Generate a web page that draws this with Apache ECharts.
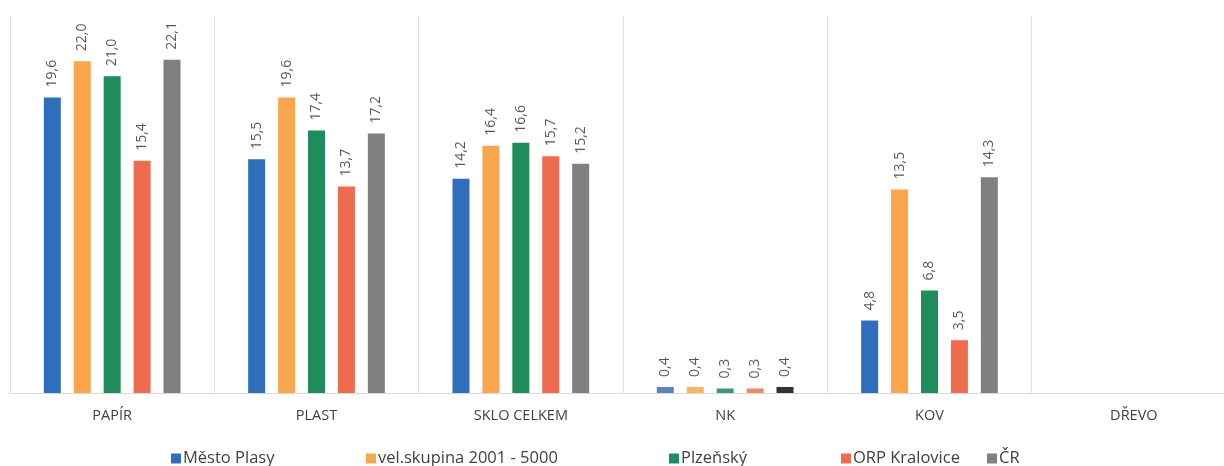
<!DOCTYPE html>
<html>
<head>
<meta charset="utf-8">
<script src="https://cdn.jsdelivr.net/npm/echarts@6/dist/echarts.min.js"></script>
<style>
html,body{margin:0;padding:0;background:#fff;}
#chart{width:1224px;height:466px;}
</style>
</head>
<body>
<div id="chart"></div>
<script>
const categories = ['PAPÍR', 'PLAST', 'SKLO CELKEM', 'NK', 'KOV', 'DŘEVO'];
const seriesNames = ['Město Plasy', 'vel.skupina 2001 - 5000', 'Plzeňský', 'ORP Kralovice', 'ČR'];
const mestoPlasy = [19.6, 15.5, 14.2, 0.4, 4.8, null];
const velSkupina = [22.0, 19.6, 16.4, 0.4, 13.5, null];
const plzensky = [21.0, 17.4, 16.6, 0.3, 6.8, null];
const orpKralovice = [15.4, 13.7, 15.7, 0.3, 3.5, null];
const cr = [22.1, 17.2, 15.2, 0.4, 14.3, null];

const colors = ['#2E6EBA', '#F9A64C', '#1F8C5B', '#EF6B4E', '#808080'];
const nkColors = ['#5B84C4', '#F8B65E', '#3E9A6E', '#F4866C', '#333333'];
const allData = [mestoPlasy, velSkupina, plzensky, orpKralovice, cr];
const legendLeft = [166, 361, 664, 836, 982];
const FONT = 'Open Sans';

const chart = echarts.init(document.getElementById('chart'), null, {renderer: 'canvas'});

const series = allData.map((arr, i) => ({
  name: seriesNames[i],
  type: 'bar',
  barWidth: 17,
  barGap: '76%',
  itemStyle: {color: colors[i]},
  data: arr.map((v, j) => (j === 3 && v != null) ? {value: v, itemStyle: {color: nkColors[i]}} : v),
  label: {
    show: true,
    position: 'top',
    rotate: 90,
    align: 'left',
    verticalAlign: 'middle',
    distance: 10,
    fontFamily: FONT,
    fontSize: 14,
    color: '#595959',
    formatter: p => p.value == null ? '' : Number(p.value).toFixed(1).replace('.', ',')
  }
}));

const legends = seriesNames.map((n, i) => ({
  data: [n],
  left: legendLeft[i],
  top: 445,
  icon: 'rect',
  itemWidth: 10,
  itemHeight: 10,
  selectedMode: false,
  textStyle: {fontFamily: FONT, fontSize: 16.5, color: '#404040', padding: [0, 0, 0, -3]}
}));

chart.setOption({
  animation: false,
  backgroundColor: '#fff',
  grid: {left: 10, top: 16, right: -12, bottom: 73, containLabel: false, outerBoundsMode: 'none'},
  legend: legends,
  xAxis: {
    type: 'category',
    data: categories,
    axisLine: {show: true, lineStyle: {color: '#D9D9D9', width: 1}},
    axisTick: {show: false},
    splitLine: {show: true, interval: 0, lineStyle: {color: '#E0E0E0', width: 1}},
    axisLabel: {fontFamily: FONT, fontSize: 14.5, color: '#404040', margin: 15}
  },
  yAxis: {
    type: 'value',
    min: 0,
    max: 25,
    interval: 5,
    show: true,
    axisLine: {show: false},
    axisTick: {show: false},
    axisLabel: {show: false},
    splitLine: {show: false}
  },
  series: series
});
</script>
</body>
</html>
